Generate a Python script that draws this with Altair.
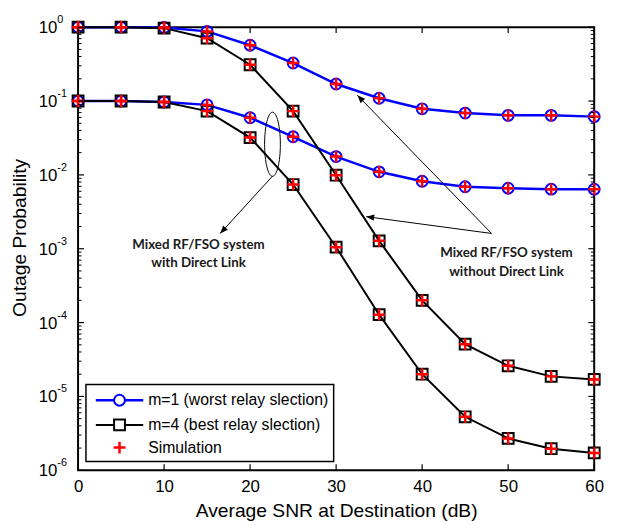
import altair as alt
import pandas as pd

snr = [0, 5, 10, 15, 20, 25, 30, 35, 40, 45, 50, 55, 60]
m1_noDL = [1.0, 1.0, 0.99, 0.877, 0.57, 0.327, 0.17, 0.109, 0.0785, 0.0687, 0.064, 0.064, 0.0615]
m4_noDL = [1.0, 1.0, 0.97, 0.71, 0.31, 0.073, 0.0099, 0.00128, 0.0002, 5.1e-5, 2.6e-5, 1.87e-5, 1.7e-5]
m1_DL = [0.1, 0.1, 0.097, 0.0887, 0.0594, 0.0328, 0.0177, 0.011, 0.0082, 0.0069, 0.0066, 0.0064, 0.0064]
m4_DL = [0.1, 0.1, 0.097, 0.073, 0.032, 0.0074, 0.00105, 0.000128, 2.0e-5, 5.3e-6, 2.7e-6, 1.96e-6, 1.72e-6]

x_ticks = [0, 10, 20, 30, 40, 50, 60]
y_ticks = [1, 1e-1, 1e-2, 1e-3, 1e-4, 1e-5, 1e-6]
y_exps = ["0", "-1", "-2", "-3", "-4", "-5", "-6"]
legend_labels = ["m=1 (worst relay slection)", "m=4 (best relay slection)", "Simulation"]

ann_dl_text = ["Mixed RF/FSO system", "with Direct Link"]
ann_dl_x = [14.0, 14.0]
ann_dl_y = [0.00111, 0.00064]
ann_nodl_text = ["Mixed RF/FSO system", "without Direct Link"]
ann_nodl_x = [49.8, 49.8]
ann_nodl_y = [0.00087, 0.000485]

arrow_x1 = [22.6, 48.07, 48.07]
arrow_y1 = [0.0096, 0.00161, 0.00161]
arrow_x2 = [16.52, 33.5, 32.47]
arrow_y2 = [0.00161, 0.00272, 0.1197]
arrow_angle = [222, 278, 316]

ellipse_x = [22.6]
ellipse_y = [0.026]

W, H = 523, 449
BLUE = "#0000FF"
RED = "#FF0000"
FONT = "Liberation Sans"

rows = []
for name, vals in [("m1_noDL", m1_noDL), ("m1_DL", m1_DL), ("m4_noDL", m4_noDL), ("m4_DL", m4_DL)]:
    for s, p in zip(snr, vals):
        rows.append({"series": name, "group": name[:2], "snr": s, "p": p})
df = pd.DataFrame(rows)

xscale = alt.Scale(domain=[0, 60], nice=False, zero=False)
yscale = alt.Scale(type="log", domain=[1e-6, 1], nice=False)

X_TITLE = "Average SNR at Destination (dB)"
Y_TITLE = "Outage Probability"
xaxis = alt.Axis(
    values=x_ticks, ticks=False, domain=False, grid=False, labelFont=FONT,
    labelFontSize=17, labelColor="black", labelPadding=8, labelFlush=False,
    titleFont=FONT, titleFontSize=19.5,
    titleFontWeight="normal", titleColor="black", titlePadding=8)
yaxis = alt.Axis(
    labels=False, ticks=False, domain=False, grid=False,
    titleFont=FONT, titleFontSize=19.5,
    titleFontWeight="normal", titleColor="black", titleAngle=270,
    titleX=-59, titleY=213, titleAlign="center", titleBaseline="middle")
X = alt.X("snr:Q", scale=xscale, axis=xaxis, title=X_TITLE)
Y = alt.Y("p:Q", scale=yscale, axis=yaxis, title=Y_TITLE)

base = alt.Chart(df)
blue_line = base.transform_filter(alt.datum.group == "m1").mark_line(color=BLUE, strokeWidth=2.5).encode(
    x=X, y=Y, detail="series:N")
black_line = base.transform_filter(alt.datum.group == "m4").mark_line(color="black", strokeWidth=2).encode(
    x=X, y=Y, detail="series:N")
circles = base.transform_filter(alt.datum.group == "m1").mark_point(
    shape="circle", size=121, color=BLUE, strokeWidth=2, filled=False, opacity=1).encode(x=X, y=Y)
squares = base.transform_filter(alt.datum.group == "m4").mark_point(
    shape="square", size=121, color="black", strokeWidth=2, filled=False, opacity=1).encode(x=X, y=Y)
PLUS = "M-1,0L1,0M0,-1L0,1"
pluses = base.mark_point(shape=PLUS, size=144, color=RED, strokeWidth=2.5, filled=False, opacity=1).encode(
    x=X, y=Y)

# inward ticks
xt = pd.DataFrame({"snr": x_ticks})
xt_bottom = alt.Chart(xt).mark_rule(color="black", strokeWidth=1.2).encode(
    x=X, y=alt.value(H), y2=alt.value(H - 6))
xt_top = alt.Chart(xt).mark_rule(color="black", strokeWidth=1.2).encode(
    x=X, y=alt.value(0), y2=alt.value(6))
yt = pd.DataFrame({"p": y_ticks, "base": ["10"] * len(y_ticks), "exp": y_exps})
yt_left = alt.Chart(yt).mark_rule(color="black", strokeWidth=1.2).encode(
    y=Y, x=alt.value(0), x2=alt.value(6))
yt_right = alt.Chart(yt).mark_rule(color="black", strokeWidth=1.2).encode(
    y=Y, x=alt.value(W), x2=alt.value(W - 6))
minor = []
for d in y_ticks[1:]:
    for k in range(2, 10):
        minor.append(d * k)
ym = pd.DataFrame({"p": minor})
ym_left = alt.Chart(ym).mark_rule(color="black", strokeWidth=1).encode(
    y=Y, x=alt.value(0), x2=alt.value(3.5))
ym_right = alt.Chart(ym).mark_rule(color="black", strokeWidth=1).encode(
    y=Y, x=alt.value(W), x2=alt.value(W - 3.5))
ylab_base = alt.Chart(yt).mark_text(font=FONT, fontSize=17, align="right", baseline="middle", dy=1,
                                    color="black").encode(y=Y, x=alt.value(-21), text="base:N")
ylab_exp = alt.Chart(yt).mark_text(font=FONT, fontSize=11, align="left", baseline="middle", dy=-7,
                                   color="black").encode(y=Y, x=alt.value(-21), text="exp:N")

# annotations
ann_df = pd.DataFrame({"snr": ann_dl_x + ann_nodl_x, "p": ann_dl_y + ann_nodl_y,
                       "t": ann_dl_text + ann_nodl_text})
ann = alt.Chart(ann_df).mark_text(font="Lato", fontWeight="bold", fontSize=13.5, color="#1a1a1a",
                                  align="center", baseline="middle").encode(x=X, y=Y, text="t:N")
arr_df = pd.DataFrame({"snr": arrow_x1, "p": arrow_y1, "snr2": arrow_x2, "p2": arrow_y2})
arr_lines = alt.Chart(arr_df).mark_rule(color="black", strokeWidth=1).encode(
    x=X, y=Y, x2="snr2:Q", y2="p2:Q")
head_df = pd.DataFrame({"snr": arrow_x2, "p": arrow_y2, "ang": arrow_angle})
HEAD = "M0,0L-0.4,1L0.4,1Z"
arr_heads = alt.Chart(head_df).mark_point(shape=HEAD, size=256, color="black", filled=True, opacity=1).encode(
    x=X, y=Y, angle=alt.Angle("ang:Q", scale=None))
ELL = "M0,-1A0.246,1,0,1,1,0,1A0.246,1,0,1,1,0,-1Z"
ell = alt.Chart(pd.DataFrame({"snr": ellipse_x, "p": ellipse_y})).mark_point(
    shape=ELL, size=4225, color="black", strokeWidth=1, filled=False, opacity=1).encode(x=X, y=Y)

# legend
one = pd.DataFrame({"a": [0]})
leg_box = alt.Chart(one).mark_rect(fill="white", stroke="black", strokeWidth=1.5).encode(
    x=alt.value(8), x2=alt.value(259), y=alt.value(362), y2=alt.value(440))
leg_l1 = alt.Chart(one).mark_rule(color=BLUE, strokeWidth=2.5).encode(
    x=alt.value(18), x2=alt.value(66), y=alt.value(378))
leg_l2 = alt.Chart(one).mark_rule(color="black", strokeWidth=2).encode(
    x=alt.value(18), x2=alt.value(66), y=alt.value(403))
leg_p1 = alt.Chart(one).mark_point(shape="circle", size=121, color=BLUE, strokeWidth=2, filled=False,
                                   fill="white", opacity=1).encode(x=alt.value(42), y=alt.value(378))
leg_p2 = alt.Chart(one).mark_point(shape="square", size=121, color="black", strokeWidth=2, filled=False,
                                   fill="white", opacity=1).encode(x=alt.value(42), y=alt.value(403))
leg_p3 = alt.Chart(one).mark_point(shape=PLUS, size=144, color=RED, strokeWidth=2.5, filled=False,
                                   opacity=1).encode(x=alt.value(42), y=alt.value(426))
leg_txt = alt.Chart(pd.DataFrame({"t": legend_labels, "row": [378, 403, 426]})).mark_text(
    font=FONT, fontSize=16, align="left", baseline="middle", color="black").encode(
    x=alt.value(71), y=alt.Y("row:Q", scale=None, axis=None), text="t:N")

chart = alt.layer(
    blue_line, black_line, circles, squares, pluses,
    xt_bottom, xt_top, yt_left, yt_right, ym_left, ym_right, ylab_base, ylab_exp,
    arr_lines, arr_heads, ell, ann,
    leg_box, leg_l1, leg_l2, leg_p1, leg_p2, leg_p3, leg_txt,
).properties(
    width=W, height=H,
    autosize=alt.AutoSizeParams(type="none"),
    padding={"left": 71, "top": 16, "right": 15, "bottom": 52},
    background="white",
).configure_view(stroke="black", strokeWidth=2)

chart.save("out.html", embed_options={"renderer": "svg", "actions": False})
